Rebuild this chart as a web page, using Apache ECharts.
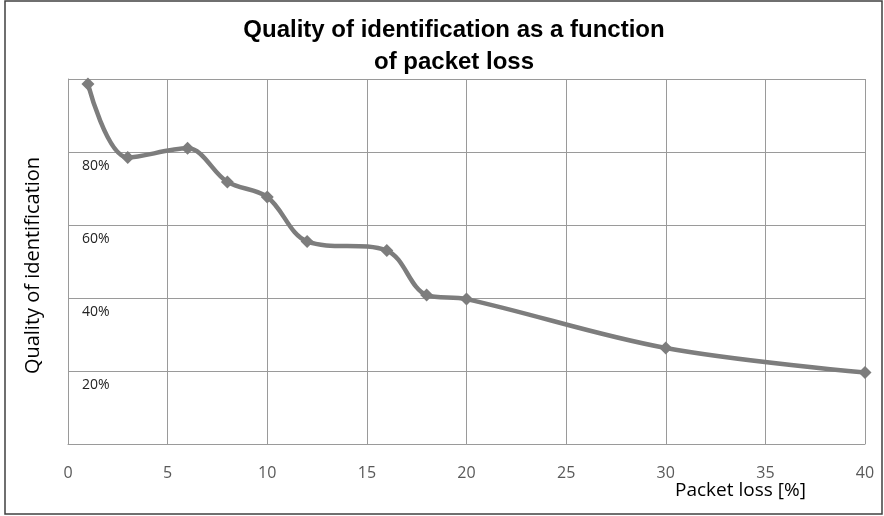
<!DOCTYPE html>
<html><head><meta charset="utf-8">
<script src="https://cdn.jsdelivr.net/npm/echarts@6/dist/echarts.min.js"></script>
<style>html,body{margin:0;padding:0;background:#fff}#c{width:884px;height:516px}</style>
</head><body><div id="c"></div>
<script>
const packetLoss = [1, 3, 6, 8, 10, 12, 16, 18, 20, 30, 40];
const quality = [98.6, 78.5, 81.0, 71.8, 67.7, 55.5, 53.0, 40.8, 39.7, 26.3, 19.6];
const yTickLabels = [20, 40, 60, 80];
const titleText = 'Quality of identification as a function\nof packet loss';
const xName = 'Packet loss [%]';
const yName = 'Quality of identification';

const chart = echarts.init(document.getElementById('c'), null, {renderer: 'canvas'});
chart.setOption({
  animation: false,
  backgroundColor: '#ffffff',
  title: {
    text: titleText, left: 449, top: 9, textAlign: 'center',
    textStyle: {fontFamily: 'Liberation Sans', fontWeight: 'bold', fontSize: 24, lineHeight: 32, color: '#000'}
  },
  graphic: [
    {type: 'rect', shape: {x: 5, y: 1, width: 877, height: 513}, style: {fill: 'none', stroke: '#404040', lineWidth: 1.5}, silent: true},
    {type: 'text', left: 675, top: 481, style: {text: xName, font: '19px "Open Sans"', fill: '#000'}}
  ],
  grid: {left: 68, right: 19, top: 79, bottom: 72},
  xAxis: {
    type: 'value', min: 0, max: 40, interval: 5,
    axisLine: {show: true, lineStyle: {color: '#9a9a9a', width: 1}},
    axisTick: {show: false},
    axisLabel: {color: '#595959', fontSize: 16, fontFamily: 'Open Sans', margin: 21},
    splitLine: {show: true, lineStyle: {color: '#9a9a9a', width: 1}}
  },
  yAxis: {
    type: 'value', min: 0, max: 100, interval: 20,
    name: yName, nameLocation: 'middle', nameGap: 25, nameRotate: 90,
    nameTextStyle: {fontFamily: 'Open Sans', fontSize: 20, color: '#000', padding: [0, 8, 0, 0]},
    axisLine: {show: true, lineStyle: {color: '#9a9a9a', width: 1}},
    axisTick: {show: false},
    axisLabel: {
      inside: true, margin: 14, color: '#222', fontSize: 14, fontFamily: 'Open Sans',
      verticalAlign: 'top', padding: [7, 0, 0, 0],
      formatter: v => yTickLabels.includes(v) ? v + '%' : ''
    },
    splitLine: {show: true, lineStyle: {color: '#9a9a9a', width: 1}}
  },
  series: [{
    type: 'line', smooth: 0.35,
    data: packetLoss.map((x, i) => [x, quality[i]]),
    symbol: 'diamond', symbolSize: 13,
    lineStyle: {color: '#7d7d7d', width: 4.5},
    itemStyle: {color: '#7d7d7d'}
  }]
});
</script></body></html>
